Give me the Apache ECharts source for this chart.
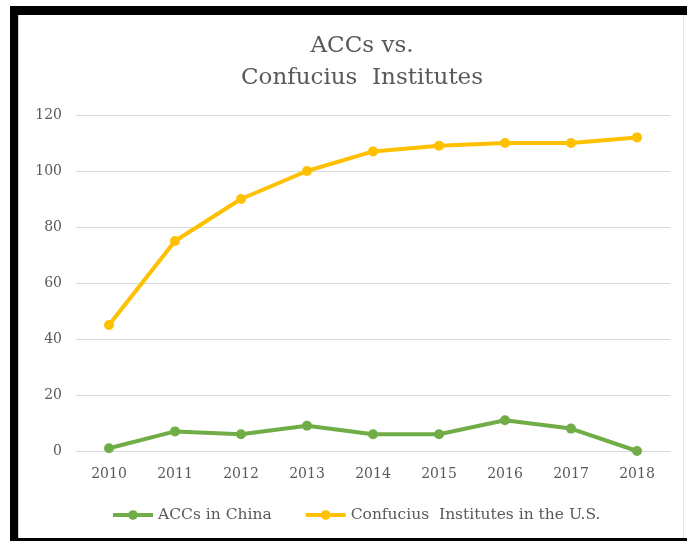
<!DOCTYPE html>
<html>
<head>
<meta charset="utf-8">
<script src="https://cdn.jsdelivr.net/npm/echarts@6/dist/echarts.min.js"></script>
<style>
html,body{margin:0;padding:0;background:#fff;}
#chart{width:687px;height:541px;}
</style>
</head>
<body>
<div id="chart"></div>
<script>
var years = ['2010','2011','2012','2013','2014','2015','2016','2017','2018'];
var accsInChina = [1, 7, 6, 9, 6, 6, 11, 8, 0];
var confuciusUS = [45, 75, 90, 100, 107, 109, 110, 110, 112];
var yTicks = {min: 0, max: 120, interval: 20};

var serif = 'DejaVu Serif';
var textGray = '#595959';

var chart = echarts.init(document.getElementById('chart'));
chart.setOption({
  backgroundColor: '#ffffff',
  animation: false,
  title: {
    text: 'ACCs vs.\nConfucius  Institutes',
    left: 357,
    top: 25,
    textAlign: 'center',
    textStyle: {
      fontFamily: serif,
      fontSize: 23,
      fontWeight: 'normal',
      color: textGray,
      lineHeight: 32
    }
  },
  legend: {
    bottom: 13,
    left: 106,
    itemWidth: 40,
    itemHeight: 12,
    itemGap: 32,
    lineStyle: {width: 4},
    textStyle: {fontFamily: serif, fontSize: 15.5, color: textGray},
    data: ['ACCs in China', 'Confucius  Institutes in the U.S.']
  },
  grid: {left: 76, right: 17, top: 115, bottom: 90},
  xAxis: {
    type: 'category',
    data: years,
    boundaryGap: true,
    axisLine: {show: true, lineStyle: {color: '#d9d9d9', width: 1}},
    axisTick: {show: false},
    axisLabel: {fontFamily: serif, fontSize: 14, color: textGray, margin: 16}
  },
  yAxis: {
    type: 'value',
    min: yTicks.min,
    max: yTicks.max,
    interval: yTicks.interval,
    axisLine: {show: false},
    axisTick: {show: false},
    splitLine: {lineStyle: {color: '#d9d9d9', width: 1}},
    axisLabel: {fontFamily: serif, fontSize: 14, color: textGray, margin: 14}
  },
  series: [
    {
      name: 'ACCs in China',
      type: 'line',
      data: accsInChina,
      symbol: 'circle',
      symbolSize: 10,
      color: '#70AD47',
      lineStyle: {width: 4, color: '#70AD47'},
      itemStyle: {color: '#70AD47'}
    },
    {
      name: 'Confucius  Institutes in the U.S.',
      type: 'line',
      data: confuciusUS,
      symbol: 'circle',
      symbolSize: 10,
      color: '#FFC000',
      lineStyle: {width: 4, color: '#FFC000'},
      itemStyle: {color: '#FFC000'}
    }
  ],
  graphic: [
    {type: 'rect', shape: {x: 10, y: 6, width: 677, height: 9}, style: {fill: '#000'}, silent: true},
    {type: 'rect', shape: {x: 10, y: 6, width: 8, height: 535}, style: {fill: '#000'}, silent: true},
    {type: 'rect', shape: {x: 10, y: 538, width: 677, height: 3}, style: {fill: '#000'}, silent: true},
    {type: 'rect', shape: {x: 18, y: 15, width: 1, height: 523}, style: {fill: '#cfcfcf'}, silent: true},
    {type: 'rect', shape: {x: 683, y: 15, width: 1, height: 523}, style: {fill: '#e6e6e6'}, silent: true}
  ]
});
</script>
</body>
</html>
